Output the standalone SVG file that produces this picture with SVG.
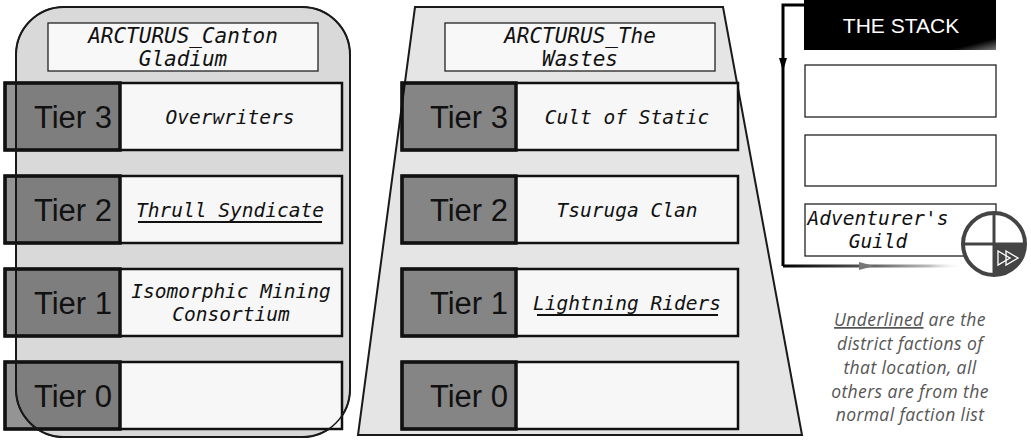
<svg xmlns="http://www.w3.org/2000/svg" width="1031" height="440" viewBox="0 0 1031 440">
<defs>
<linearGradient id="hdr" x1="0" y1="0" x2="1" y2="1">
<stop offset="0" stop-color="#000"/><stop offset="0.88" stop-color="#000"/><stop offset="1" stop-color="#777"/>
</linearGradient>
<linearGradient id="fade" gradientUnits="userSpaceOnUse" x1="783" y1="0" x2="965" y2="0">
<stop offset="0" stop-color="#000"/><stop offset="0.45" stop-color="#555"/><stop offset="0.8" stop-color="#bbb"/><stop offset="1" stop-color="#fff" stop-opacity="0"/>
</linearGradient>
</defs>
<style>
.panel{stroke:#1a1a1a;stroke-width:2}
.title{fill:#f8f8f8;stroke:#222;stroke-width:1.3}
.cell{fill:#f7f7f7}
.tierbox{fill:#000;fill-opacity:0.42;stroke:#111;stroke-width:3.5}
.row{fill:none;stroke:#111;stroke-width:2.5}
.tier{font-family:"Liberation Sans",Arial,sans-serif;font-size:31px;fill:#111;text-anchor:end}
.hand{font-family:"DejaVu Sans Mono",monospace;font-style:italic;font-size:19.5px;fill:#111;text-anchor:middle}
.htitle{font-size:21px}
.ul{stroke:#111;stroke-width:2}
.sbox{fill:#fff;stroke:#222;stroke-width:1.3}
.legend{font-family:"Open Sans",sans-serif;font-style:italic;font-size:17.5px;letter-spacing:0.4px;fill:#555;text-anchor:middle}
.conn{fill:none;stroke-width:3}
</style>

<g id="canton-gladium">
<rect class="panel" x="16" y="7" width="334" height="430" rx="48" fill="#d9d9d9"/>
<rect class="title" x="48" y="23" width="270" height="48"/>
<text class="hand htitle" x="183" y="43">ARCTURUS_Canton</text>
<text class="hand htitle" x="183" y="66">Gladium</text>
<g id="cg-tier3">
<rect class="cell" x="120" y="83" width="222" height="67"/>
<rect class="tierbox" x="5" y="83" width="115" height="67"/>
<rect class="row" x="5" y="83" width="337" height="67"/>
<text class="tier" x="112" y="128">Tier 3</text>
<text class="hand" x="230" y="124">Overwriters</text>
</g>
<g id="cg-tier2">
<rect class="cell" x="120" y="176" width="222" height="67"/>
<rect class="tierbox" x="5" y="176" width="115" height="67"/>
<rect class="row" x="5" y="176" width="337" height="67"/>
<text class="tier" x="112" y="221">Tier 2</text>
<text class="hand" x="230" y="217">Thrull Syndicate</text>
<line class="ul" x1="138" y1="222" x2="322" y2="222"/>
</g>
<g id="cg-tier1">
<rect class="cell" x="120" y="269" width="222" height="67"/>
<rect class="tierbox" x="5" y="269" width="115" height="67"/>
<rect class="row" x="5" y="269" width="337" height="67"/>
<text class="tier" x="112" y="314">Tier 1</text>
<text class="hand" x="231" y="298">Isomorphic Mining</text>
<text class="hand" x="231" y="321">Consortium</text>
</g>
<g id="cg-tier0">
<rect class="cell" x="120" y="362" width="222" height="67"/>
<rect class="tierbox" x="5" y="362" width="115" height="67"/>
<rect class="row" x="5" y="362" width="337" height="67"/>
<text class="tier" x="112" y="407">Tier 0</text>
</g>
<rect x="16" y="7" width="334" height="430" rx="48" fill="none" stroke="#1a1a1a" stroke-width="1.5"/>
</g>

<g id="the-wastes">
<polygon class="panel" points="415,7 723,7 802,435 358,435" fill="#e5e5e5"/>
<rect class="title" x="445" y="23" width="270" height="48"/>
<text class="hand htitle" x="580" y="43">ARCTURUS_The</text>
<text class="hand htitle" x="580" y="66">Wastes</text>
<g id="tw-tier3">
<rect class="cell" x="516" y="83" width="222" height="67"/>
<rect class="tierbox" x="402" y="83" width="114" height="67"/>
<rect class="row" x="402" y="83" width="336" height="67"/>
<text class="tier" x="508" y="128">Tier 3</text>
<text class="hand" x="627" y="124">Cult of Static</text>
</g>
<g id="tw-tier2">
<rect class="cell" x="516" y="176" width="222" height="67"/>
<rect class="tierbox" x="402" y="176" width="114" height="67"/>
<rect class="row" x="402" y="176" width="336" height="67"/>
<text class="tier" x="508" y="221">Tier 2</text>
<text class="hand" x="627" y="217">Tsuruga Clan</text>
</g>
<g id="tw-tier1">
<rect class="cell" x="516" y="269" width="222" height="67"/>
<rect class="tierbox" x="402" y="269" width="114" height="67"/>
<rect class="row" x="402" y="269" width="336" height="67"/>
<text class="tier" x="508" y="314">Tier 1</text>
<text class="hand" x="627" y="310">Lightning Riders</text>
<line class="ul" x1="537" y1="315" x2="718" y2="315"/>
</g>
<g id="tw-tier0">
<rect class="cell" x="516" y="362" width="222" height="67"/>
<rect class="tierbox" x="402" y="362" width="114" height="67"/>
<rect class="row" x="402" y="362" width="336" height="67"/>
<text class="tier" x="508" y="407">Tier 0</text>
</g>
</g>

<g id="connectors">
<path class="conn" d="M806 5 H783 V266" stroke="#000"/>
<polygon points="779,58 787,58 783,71" fill="#000"/>
<path class="conn" d="M783 266 H965" stroke="url(#fade)"/>
<polygon points="859,262 874,266 859,270" fill="#777"/>
</g>

<g id="the-stack">
<rect x="804" y="0" width="192" height="50" fill="url(#hdr)"/>
<text x="901" y="33" font-family="Liberation Sans,Arial,sans-serif" font-size="21" fill="#fff" text-anchor="middle">THE STACK</text>
<rect class="sbox" x="805" y="65" width="191" height="52"/>
<rect class="sbox" x="805" y="135" width="191" height="51"/>
</g>

<g id="adventurers-guild">
<rect class="sbox" x="805" y="204" width="191" height="52"/>
<text class="hand" x="878" y="225" font-size="18">Adventurer's</text>
<text class="hand" x="878" y="248" font-size="18">Guild</text>
</g>

<g id="stack-icon">
<circle cx="994" cy="244" r="31" fill="#fff" stroke="#444" stroke-width="4"/>
<path d="M994 244 H1025 A31 31 0 0 1 994 275 Z" fill="#444"/>
<line x1="963" y1="244" x2="1025" y2="244" stroke="#444" stroke-width="3"/>
<line x1="994" y1="213" x2="994" y2="275" stroke="#444" stroke-width="3"/>
<polygon points="998,251 1010,258 998,265" fill="none" stroke="#fff" stroke-width="1.3"/>
<polygon points="1006,251 1018,258 1006,265" fill="none" stroke="#fff" stroke-width="1.3"/>
</g>

<g id="legend">
<text class="legend" x="910" y="326"><tspan text-decoration="underline">Underlined</tspan> are the</text>
<text class="legend" x="910" y="350">district factions of</text>
<text class="legend" x="910" y="374">that location, all</text>
<text class="legend" x="910" y="398">others are from the</text>
<text class="legend" x="910" y="421">normal faction list</text>
</g>
</svg>
